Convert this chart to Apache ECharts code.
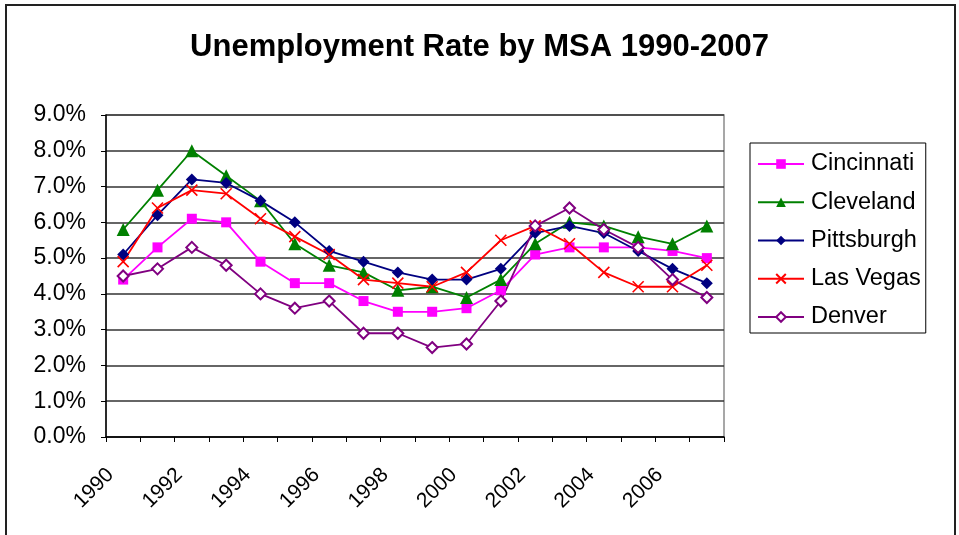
<!DOCTYPE html>
<html>
<head>
<meta charset="utf-8">
<script src="https://cdn.jsdelivr.net/npm/echarts@6/dist/echarts.min.js"></script>
<style>
  html, body { margin: 0; padding: 0; background: #fff; }
  #frame { position: absolute; left: 5px; top: 4px; width: 951px; height: 560px; border: 2px solid #222; box-sizing: border-box; }
  #chart { position: absolute; left: 0; top: 0; width: 959px; height: 535px; }
</style>
</head>
<body>
<div id="frame"></div>
<div id="chart"></div>
<script>
// Annual unemployment rate (%) by metropolitan statistical area
const years = ['1990','1991','1992','1993','1994','1995','1996','1997','1998','1999',
               '2000','2001','2002','2003','2004','2005','2006','2007'];
const cincinnati = [4.4, 5.3, 6.1, 6.0, 4.9, 4.3, 4.3, 3.8, 3.5, 3.5, 3.6, 4.1, 5.1, 5.3, 5.3, 5.3, 5.2, 5.0];
const cleveland  = [5.8, 6.9, 8.0, 7.3, 6.6, 5.4, 4.8, 4.6, 4.1, 4.2, 3.9, 4.4, 5.4, 6.0, 5.9, 5.6, 5.4, 5.9];
const pittsburgh = [5.1, 6.2, 7.2, 7.1, 6.6, 6.0, 5.2, 4.9, 4.6, 4.4, 4.4, 4.7, 5.7, 5.9, 5.7, 5.2, 4.7, 4.3];
const lasVegas   = [4.9, 6.4, 6.9, 6.8, 6.1, 5.6, 5.1, 4.4, 4.3, 4.2, 4.6, 5.5, 5.9, 5.4, 4.6, 4.2, 4.2, 4.8];
const denver     = [4.5, 4.7, 5.3, 4.8, 4.0, 3.6, 3.8, 2.9, 2.9, 2.5, 2.6, 3.8, 5.9, 6.4, 5.8, 5.3, 4.4, 3.9];

const FONT = 'Liberation Sans, Arial, sans-serif';
const crossPath = 'path://M0,0 L10,10 M10,0 L0,10';

function lineSeries(name, data, color, symbol, size, extra) {
  return Object.assign({
    name: name,
    type: 'line',
    data: data,
    symbol: symbol,
    symbolSize: size,
    showAllSymbol: true,
    animation: false,
    lineStyle: { color: color, width: 1.8 },
    itemStyle: { color: color }
  }, extra || {});
}

const chart = echarts.init(document.getElementById('chart'), null, { renderer: 'canvas' });
chart.setOption({
  backgroundColor: 'transparent',
  animation: false,
  title: {
    text: 'Unemployment Rate by MSA 1990-2007',
    left: 'center',
    top: 27,
    textStyle: { fontFamily: FONT, fontSize: 31, fontWeight: 'bold', color: '#000' }
  },
  legend: {
    orient: 'vertical',
    left: 750,
    top: 143,
    padding: [9, 5, 4, 7],
    itemWidth: 46,
    itemHeight: 12,
    itemGap: 14.25,
    borderColor: '#000',
    borderWidth: 1,
    textStyle: { fontFamily: FONT, fontSize: 23.5, color: '#000', padding: [0, 0, 0, 2] },
    data: ['Cincinnati', 'Cleveland', 'Pittsburgh', 'Las Vegas', 'Denver']
  },
  grid: {
    left: 106, top: 115, right: 235, bottom: 98,
    show: true, borderColor: '#8a8a8a', borderWidth: 1.5, containLabel: false
  },
  xAxis: {
    type: 'category',
    data: years,
    boundaryGap: true,
    axisLine: { lineStyle: { color: '#000', width: 1.5 } },
    axisTick: { show: true, interval: 0, length: 5, lineStyle: { color: '#000' } },
    axisLabel: { interval: 1, rotate: 45, margin: 22, padding: [0, 18, 0, 0],
                 fontFamily: FONT, fontSize: 21, color: '#000' },
    splitLine: { show: false }
  },
  yAxis: {
    type: 'value',
    min: 0, max: 9, interval: 1,
    axisLine: { show: true, lineStyle: { color: '#000', width: 1.5 } },
    axisTick: { show: true, length: 5, lineStyle: { color: '#000' } },
    axisLabel: { margin: 20, fontFamily: FONT, fontSize: 23, color: '#000',
                 formatter: v => v.toFixed(1) + '%' },
    splitLine: { show: true, lineStyle: { color: '#333', width: 1.5 } }
  },
  series: [
    lineSeries('Cincinnati', cincinnati, '#FF00FF', 'rect', 10),
    lineSeries('Cleveland', cleveland, '#008000', 'triangle', 13),
    lineSeries('Pittsburgh', pittsburgh, '#000080', 'diamond', 12),
    lineSeries('Las Vegas', lasVegas, '#FF0000', crossPath, 11,
      { itemStyle: { color: '#FF0000', borderColor: '#FF0000', borderWidth: 1.6 } }),
    lineSeries('Denver', denver, '#800080', 'emptyDiamond', 11,
      { itemStyle: { color: '#800080', borderColor: '#800080', borderWidth: 1.5 } })
  ]
});
</script>
</body>
</html>
